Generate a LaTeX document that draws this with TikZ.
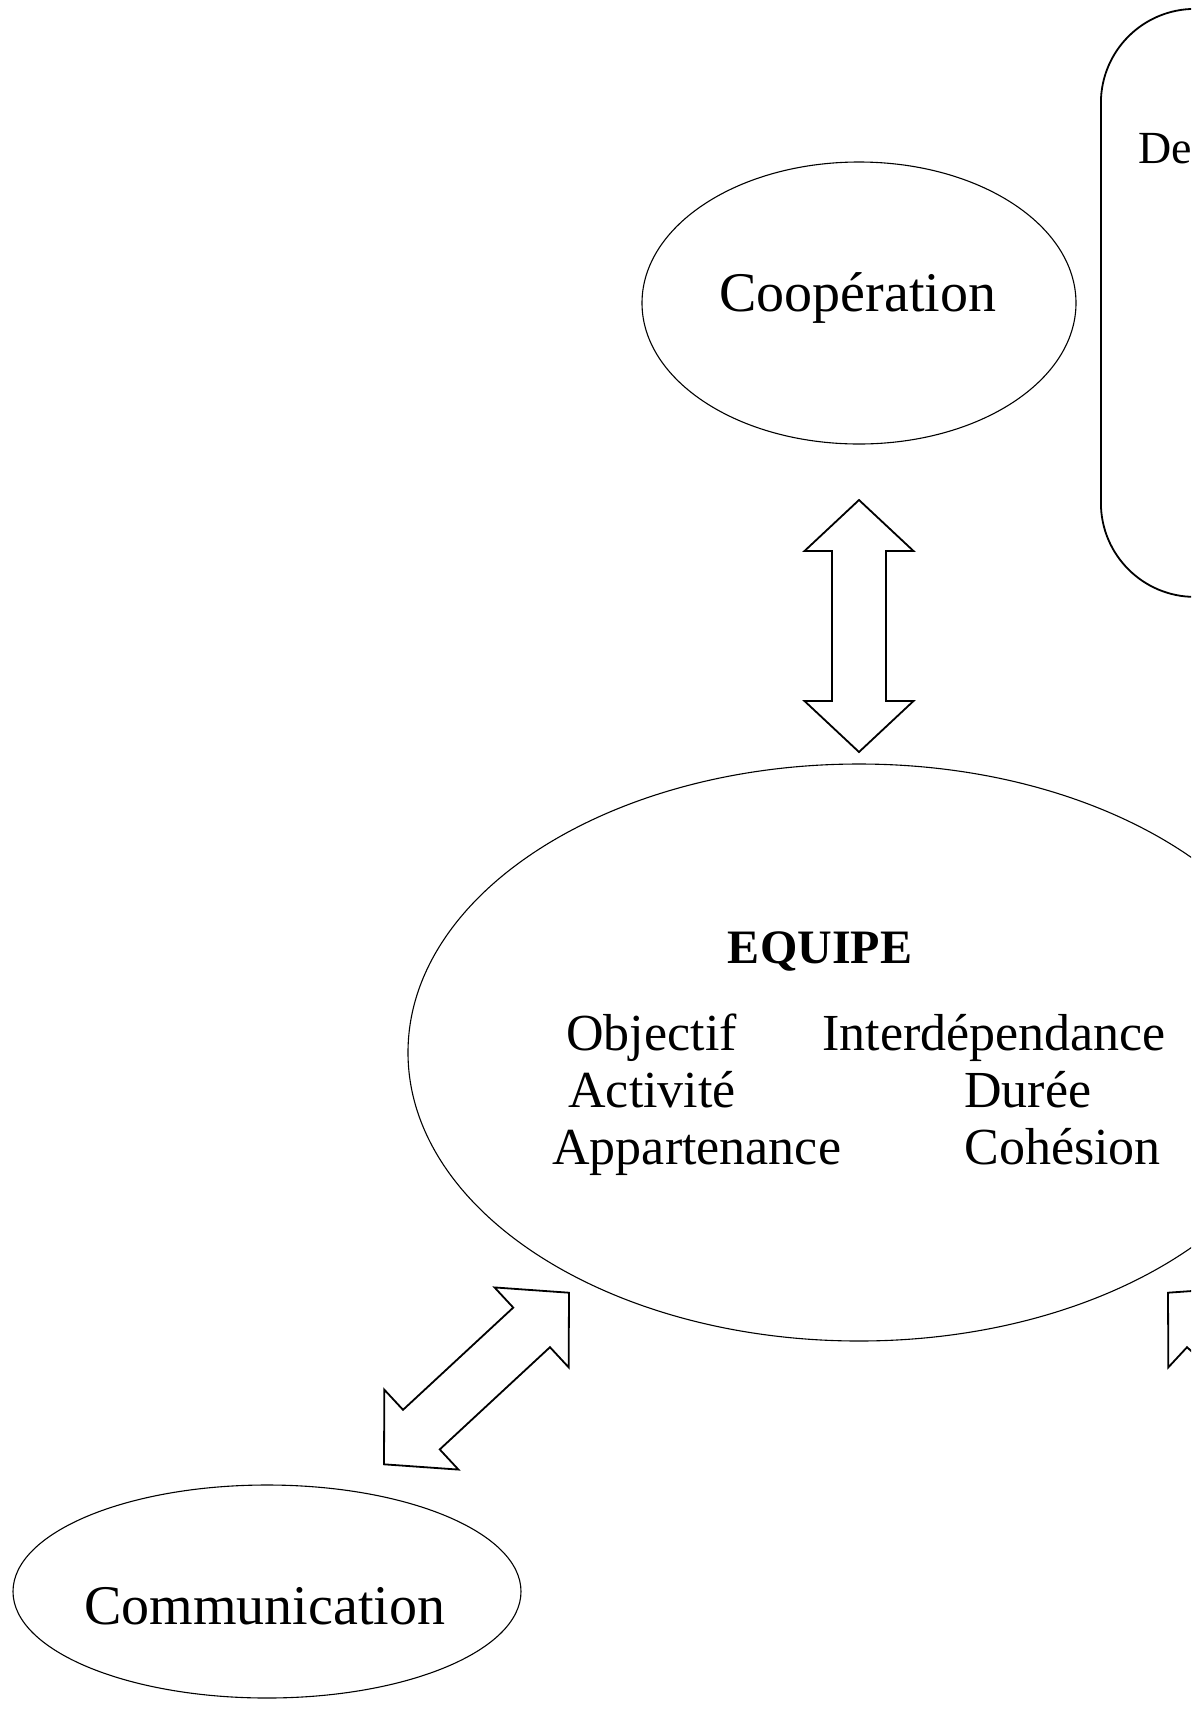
\documentclass[tikz,border=0pt]{standalone}
\usepackage{fontspec}
\setmainfont{Liberation Serif}
\usetikzlibrary{shapes.geometric,calc}

\tikzset{
  bubble/.style={draw, ellipse, line width=0.55pt, inner sep=0pt},
  blockarrow/.style={draw, line width=0.9pt, line join=miter, fill=white},
  word/.style={anchor=base west, inner sep=0pt, font=\fontsize{26}{31}\selectfont},
  bigword/.style={anchor=base west, inner sep=0pt, font=\fontsize{28}{34}\selectfont},
}

% double block arrow between two tips
\newcommand{\dblarrow}[2]{%
  \coordinate (ha) at ($(#1)!25.5pt!(#2)$);
  \coordinate (hb) at ($(#2)!25.5pt!(#1)$);
  \draw[blockarrow] (#1) -- ($(ha)!27.25pt!90:(#2)$) -- ($(ha)!13.5pt!90:(#2)$)
    -- ($(hb)!13.5pt!-90:(#1)$) -- ($(hb)!27.25pt!-90:(#1)$) -- (#2)
    -- ($(hb)!27.25pt!90:(#1)$) -- ($(hb)!13.5pt!90:(#1)$)
    -- ($(ha)!13.5pt!-90:(#2)$) -- ($(ha)!27.25pt!-90:(#2)$) -- cycle;}

\begin{document}
\begin{tikzpicture}[x=0.5pt,y=-0.5pt]
\useasboundingbox (0,0) rectangle (1191,1731);
\clip (0,0) rectangle (1191,1731);

% bubbles
\node[bubble, minimum width=217pt, minimum height=141pt] (coop) at (859,303) {};
\node[bubble, minimum width=451pt, minimum height=288.5pt] (equipe) at (859,1052.5) {};
\node[bubble, minimum width=254pt, minimum height=106.5pt] (comm) at (267,1591.5) {};
\node[draw, line width=0.9pt, rounded corners=47pt, minimum width=200pt,
  minimum height=294pt, anchor=north west] (defbox) at (1100,8) {};

% texts
\node[bigword] (coopText) at (719,311) {Coopération};
\node[bigword] (commText) at (84,1624) {Communication};
\node[anchor=base west, inner sep=0pt, font=\fontsize{23}{28}\selectfont] (defText) at (1138,163) {De};
\node[anchor=center, inner sep=0pt, font=\fontsize{24}{29}\selectfont\bfseries] (equipeText) at (820,951) {EQUIPE};
\node[word] (objectif) at (566,1050) {Objectif};
\node[word] (interdep) at (822,1050) {Interdépendance};
\node[word] (activite) at (568,1107) {Activité};
\node[word] (duree) at (964,1107) {Durée};
\node[word] (appart) at (552,1164) {Appartenance};
\node[word] (cohesion) at (964,1164) {Cohésion};

% arrows
\coordinate (coopTip) at (859,500);
\coordinate (equipeTop) at (859,752);
\coordinate (equipeLeft) at (569,1292.7);
\coordinate (commTip) at (384,1464.3);
\coordinate (equipeRight) at (1168,1292.7);
\coordinate (outTip) at (1353,1464.3);
\dblarrow{coopTip}{equipeTop}
\dblarrow{equipeLeft}{commTip}
\dblarrow{equipeRight}{outTip}
\end{tikzpicture}
\end{document}
